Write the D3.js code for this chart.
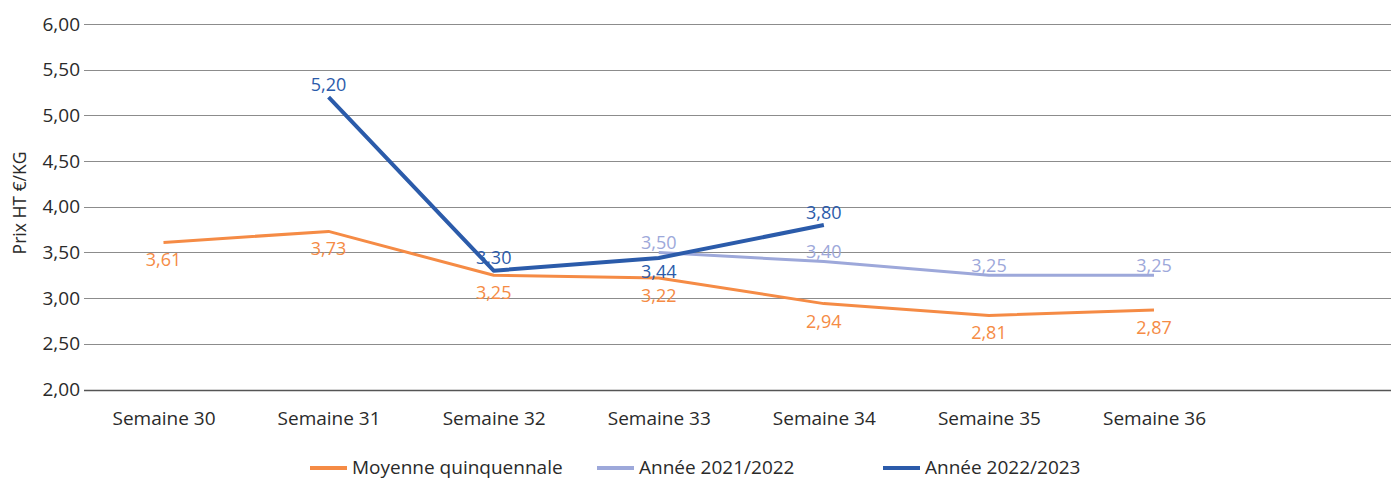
<!DOCTYPE html>
<html><head><meta charset="utf-8">
<script src="https://cdn.jsdelivr.net/npm/d3@7"></script>
<style>
html,body{margin:0;padding:0;background:#fff;}
svg{display:block;font-family:"Open Sans",sans-serif;}
</style></head><body>
<svg id="c" width="1391" height="479"></svg>
<script>
const categories = ["Semaine 30","Semaine 31","Semaine 32","Semaine 33","Semaine 34","Semaine 35","Semaine 36"];
const moyenne = [3.61, 3.73, 3.25, 3.22, 2.94, 2.81, 2.87];
const annee2122 = [null, null, null, 3.50, 3.40, 3.25, 3.25];
const annee2223 = [null, 5.20, 3.30, 3.44, 3.80, null, null];
const yTicks = [2.0, 2.5, 3.0, 3.5, 4.0, 4.5, 5.0, 5.5, 6.0];
const seriesNames = ["Moyenne quinquennale", "Année 2021/2022", "Année 2022/2023"];
const colors = ["#F58B45", "#9DA8DA", "#2B5BAA"];

const svg = d3.select("#c");
const fmt = v => d3.format(".2f")(v).replace(".", ",");
const x = d3.scalePoint().domain(categories).range([163.5, 1154]);
const y = d3.scaleLinear().domain([2, 6]).range([389.5, 24]);
const left = 84, right = 1391;

// grid
const grid = svg.append("g");
grid.selectAll("line").data(yTicks).join("line")
  .attr("x1", left).attr("x2", right)
  .attr("y1", d => Math.round(y(d)) + 0.5).attr("y2", d => Math.round(y(d)) + 0.5)
  .attr("stroke", d => d === 2 ? "#555" : "#8c8c8c").attr("stroke-width", d => d === 2 ? 1.5 : 1);

// y axis labels
const yAxis = d3.axisLeft(y).tickValues(yTicks).tickFormat(fmt).tickSize(0).tickPadding(4);
const ya = svg.append("g").attr("transform", `translate(${left},0)`).call(yAxis);
ya.select(".domain").remove();
ya.selectAll("text").attr("font-size", 19).attr("fill", "#2a2a2a").attr("font-family", "Open Sans");

// x axis labels
const xAxis = d3.axisBottom(x).tickSize(0).tickPadding(0);
const xa = svg.append("g").attr("transform", `translate(0,411.5)`).call(xAxis);
xa.select(".domain").remove();
xa.selectAll("text").attr("font-size", 19).attr("fill", "#2a2a2a").attr("font-family", "Open Sans");

// y title
svg.append("text").attr("transform", "translate(26,203) rotate(-90)")
  .attr("text-anchor", "middle").attr("font-size", 17.5).attr("fill", "#2a2a2a").text("Prix HT €/KG");

const data = [moyenne, annee2122, annee2223];
const widths = [3, 3, 4];
const line = d3.line().defined(d => d.v != null).x(d => x(d.c)).y(d => y(d.v));
data.forEach((s, i) => {
  const pts = categories.map((c, j) => ({c, v: s[j]}));
  svg.append("path").datum(pts).attr("d", line).attr("fill", "none")
    .attr("stroke", colors[i]).attr("stroke-width", widths[i]).attr("stroke-linejoin", "round");
});

// data labels
function labelDy(si, j, v) {
  if (si === 0) return 24;
  if (si === 1) return -3.5;
  // dark blue: below when under the 2021/2022 series at that point
  if (annee2122[j] != null && v < annee2122[j]) return 20.5;
  return -6.5;
}
data.forEach((s, i) => {
  const pts = categories.map((c, j) => ({c, v: s[j], j})).filter(d => d.v != null);
  svg.append("g").selectAll("text").data(pts).join("text")
    .attr("x", d => x(d.c)).attr("y", d => y(d.v) + labelDy(i, d.j, d.v))
    .attr("text-anchor", "middle").attr("font-size", 18).attr("fill", colors[i])
    .text(d => fmt(d.v));
});

// legend
const legX = [310, 597, 883];
const lg = svg.append("g");
seriesNames.forEach((n, i) => {
  lg.append("line").attr("x1", legX[i]).attr("x2", legX[i] + 37)
    .attr("y1", 468).attr("y2", 468).attr("stroke", colors[i]).attr("stroke-width", 4);
  lg.append("text").attr("x", legX[i] + 42).attr("y", 474).attr("font-size", 19)
    .attr("fill", "#2a2a2a").text(n);
});
</script>
</body></html>
